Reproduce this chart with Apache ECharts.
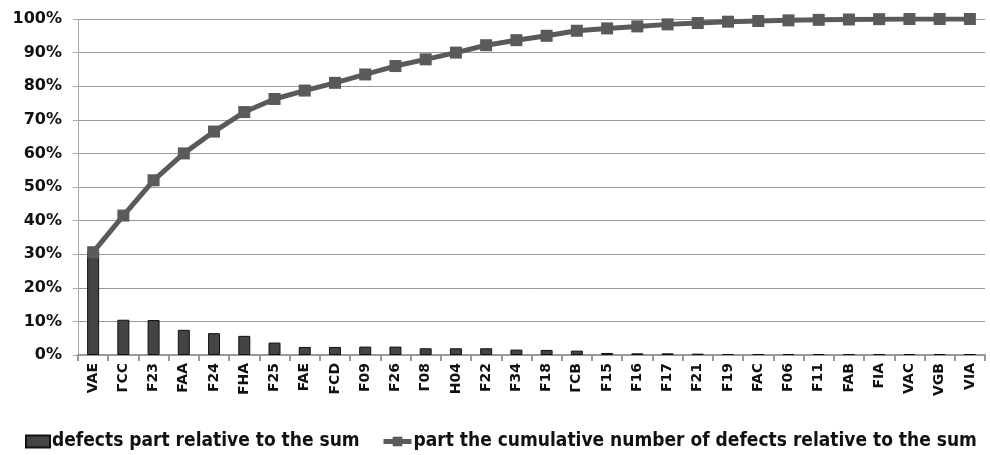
<!DOCTYPE html>
<html>
<head>
<meta charset="utf-8">
<script src="https://cdn.jsdelivr.net/npm/echarts@6/dist/echarts.min.js"></script>
<style>
  html, body { margin: 0; padding: 0; background: #fff; }
  #chart { width: 990px; height: 455px; }
</style>
</head>
<body>
<div id="chart"></div>
<script>
const categories = ['VAE', 'ГCC', 'F23', 'FAA', 'F24', 'FHA', 'F25', 'FAE', 'FCD', 'F09',
  'F26', 'Г08', 'H04', 'F22', 'F34', 'F18', 'ГCB', 'F15', 'F16', 'F17',
  'F21', 'F19', 'FAC', 'F06', 'F11', 'FAB', 'FIA', 'VAC', 'VGB', 'VIA'];

// share of defects per code (%)
const defectsPart = [30.8, 10.5, 10.4, 7.5, 6.5, 5.7, 3.7, 2.4, 2.4, 2.5,
  2.5, 2.0, 2.0, 2.0, 1.6, 1.5, 1.3, 0.6, 0.5, 0.5,
  0.4, 0.3, 0.3, 0.3, 0.3, 0.3, 0.3, 0.3, 0.3, 0.3];

// cumulative share (%)
const cumulativePart = [30.6, 41.5, 52, 60, 66.5, 72.3, 76.2, 78.7, 81, 83.5,
  86, 88, 90, 92.2, 93.7, 95, 96.5, 97.2, 97.8, 98.4,
  98.8, 99.2, 99.4, 99.6, 99.75, 99.85, 99.95, 100, 100, 100];

const barName = 'defects part relative to the sum';
const lineName = 'part the cumulative number of defects relative to the sum';

const chart = echarts.init(document.getElementById('chart'));

const legendText = {
  fontFamily: 'DejaVu Sans Condensed',
  fontWeight: 'bold',
  fontSize: 19,
  color: '#111',
  padding: [0, 0, 0, -3]
};

chart.setOption({
  animation: false,
  grid: { left: 78, right: 5, top: 19, bottom: 100 },
  legend: [
    {
      data: [{ name: barName, icon: 'rect' }],
      left: 20, top: 427,
      itemWidth: 24, itemHeight: 12,
      textStyle: legendText
    },
    {
      data: [lineName],
      left: 376, top: 427,
      itemWidth: 28, itemHeight: 12,
      lineStyle: { width: 5 },
      textStyle: legendText
    }
  ],
  xAxis: {
    type: 'category',
    data: categories,
    boundaryGap: true,
    axisLine: { lineStyle: { color: '#999', width: 2 } },
    axisTick: { show: true, length: 6, lineStyle: { color: '#999', width: 2 } },
    axisLabel: {
      rotate: 90,
      interval: 0,
      margin: 8,
      fontFamily: 'DejaVu Sans',
      fontWeight: 'bold',
      fontSize: 14,
      color: '#111'
    }
  },
  yAxis: {
    type: 'value',
    min: 0, max: 100, interval: 10,
    axisLine: { show: true, lineStyle: { color: '#aaa', width: 1 } },
    axisTick: { show: true, length: 5, lineStyle: { color: '#aaa' } },
    splitLine: { lineStyle: { color: '#999', width: 1 } },
    axisLabel: {
      formatter: '{value}%',
      margin: 16,
      fontFamily: 'DejaVu Sans',
      fontWeight: 'bold',
      fontSize: 16,
      color: '#111'
    }
  },
  series: [
    {
      name: barName,
      type: 'bar',
      data: defectsPart,
      barWidth: 12,
      itemStyle: { color: '#444', borderColor: '#111', borderWidth: 1 }
    },
    {
      name: lineName,
      type: 'line',
      data: cumulativePart,
      symbol: 'rect',
      symbolSize: 12,
      lineStyle: { color: '#5a5a5a', width: 5 },
      itemStyle: { color: '#5a5a5a' }
    }
  ]
});

window.addEventListener('resize', () => {
  chart.resize();
});
</script>
</body>
</html>
